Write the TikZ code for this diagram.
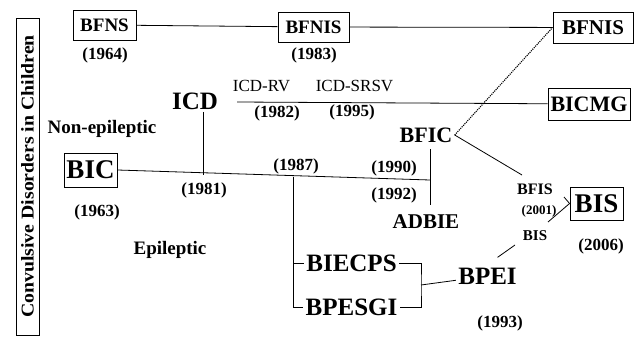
\documentclass[tikz,border=0pt]{standalone}
\usepackage{fontspec}
\setmainfont{Liberation Serif}
\newcommand{\fs}[1]{\fontsize{#1}{#1}\selectfont}
\tikzset{box/.style={draw=black,line width=0.9pt,inner sep=0pt}}
\tikzset{txt/.style={font=\bfseries\fs{#1}}}
\tikzset{thin txt/.style={font=\fs{#1}}}

\begin{document}
\begin{tikzpicture}[x=1pt,y=-1pt,line width=0.8pt,every node/.style={inner sep=2pt}]
    \useasboundingbox (0,0) rectangle (639,337);

    \node[box,rotate=90,minimum width=317pt,minimum height=23pt,txt=18] (title) at (27.5,176.5) {\scalebox{1.1}[1]{Convulsive Disorders in Children}};

    \node[box,minimum width=63pt,minimum height=30pt,txt=19] (bfns) at (104.5,25) {BFNS};
    \node[txt=17] (y64) at (105,55) {(1964)};
    \node[box,minimum width=71pt,minimum height=30pt,txt=19] (bfnis1) at (313.5,27) {BFNIS};
    \node[txt=17] (y83) at (314,55) {(1983)};
    \node[box,minimum width=80pt,minimum height=31pt,txt=21] (bfnis2) at (593,27.5) {BFNIS};

    \node[txt=25] (icd) at (195,101) {ICD};
    \node[thin txt=17] (icdrv) at (261.5,86) {ICD-RV};
    \node[thin txt=17] (icdsrsv) at (354.5,86) {ICD-SRSV};
    \node[txt=17] (y82) at (277,113) {(1982)};
    \node[txt=17] (y95) at (352,112) {(1995)};
    \node[box,minimum width=82pt,minimum height=32pt,txt=22] (bicmg) at (589,104) {BICMG};
    \node[txt=22] (bfic) at (426,135) {BFIC};

    \node[txt=19] (nonep) at (102,129) {Non-epileptic};
    \node[box,minimum width=53pt,minimum height=34pt,txt=27] (bic) at (90.5,170) {BIC};
    \node[txt=17] (y63) at (97,212) {(1963)};
    \node[txt=17] (y81) at (204,190) {(1981)};
    \node[txt=17] (y87) at (296,166) {(1987)};
    \node[txt=17] (y90) at (394,168) {(1990)};
    \node[txt=17] (y92) at (394,195) {(1992)};
    \node[txt=21] (adbie) at (426,222) {ADBIE};
    \node[txt=19] (epil) at (170,250) {Epileptic};

    \node[txt=25] (biecps) at (351.5,263) {BIECPS};
    \node[txt=25] (bpesgi) at (351.5,307) {BPESGI};
    \node[txt=25] (bpei) at (487.5,276) {BPEI};
    \node[txt=17] (y93) at (500,323) {(1993)};

    \node[txt=16] (bfisl) at (535,189) {BFIS};
    \node[txt=13] (y01) at (539,211) {(2001)};
    \node[txt=15] (bisl) at (535,236) {BIS};
    \node[box,minimum width=53pt,minimum height=33pt,txt=27] (bis) at (596.5,203.5) {BIS};
    \node[txt=17] (y06) at (601,246) {(2006)};

    \coordinate (icdr) at (237,102);
    \coordinate (k81) at (203,175);
    \coordinate (k87) at (293,176.5);
    \coordinate (lend) at (430,180);
    \coordinate (a1) at (430,149);
    \coordinate (a2) at (430,205);
    \coordinate (brk) at (421,285);
    \coordinate (f1) at (522,175);
    \coordinate (f2) at (564,197);
    \coordinate (b1) at (515,245);
    \coordinate (b2) at (548,222);

    \draw (bfns) -- (bfnis1);
    \draw (bfnis1) -- (bfnis2);
    \draw (icdr) -- (bicmg);
    \draw (icd.south -| k81) -- (k81);
    \draw (bic.east) -- (lend);
    \draw (a1) -- (a2);
    \draw (k87) |- (bpesgi);
    \draw (k87 |- biecps) -- (biecps);
    \draw (biecps) -| (brk) |- (bpesgi);
    \draw (brk) -- (bpei);
    \draw[densely dotted,line width=1.1pt] (bfic.east) -- (bfnis2.west);
    \draw (bfic.east) -- (f1);
    \draw (f2) -- (bis.west);
    \draw ([xshift=10pt,yshift=8pt]bpei.north) -- (b1);
    \draw (b2) -- (bis.west);
\end{tikzpicture}
\end{document}
